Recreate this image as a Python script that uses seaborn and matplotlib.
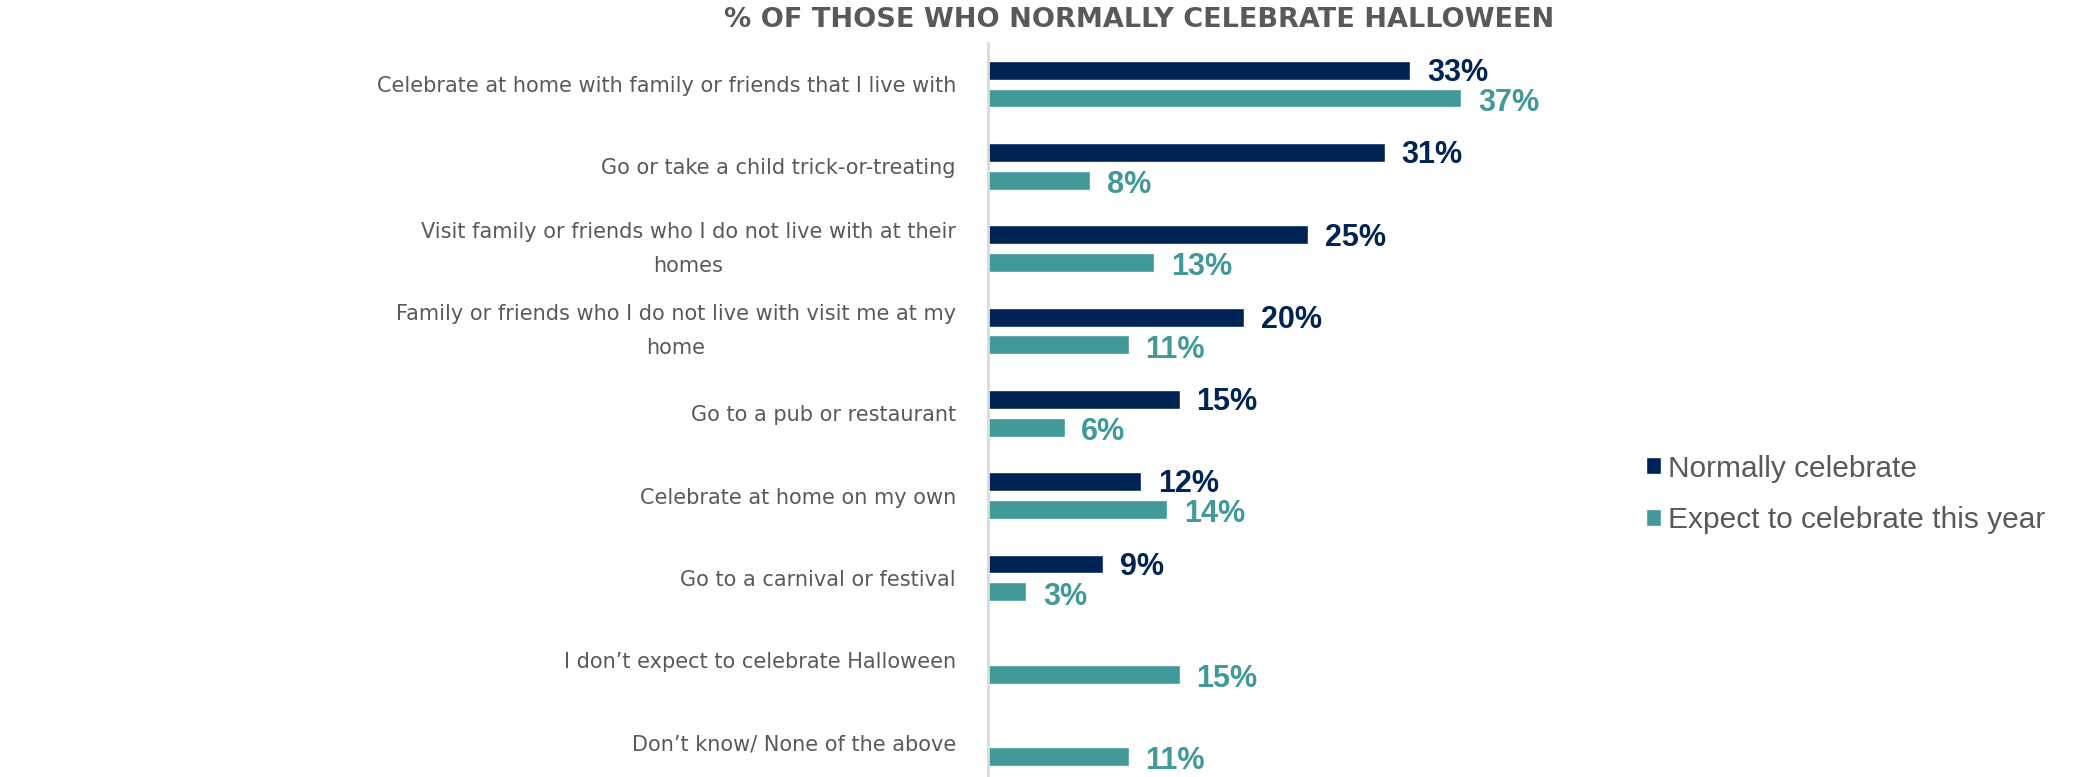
import numpy as np
import pandas as pd
import matplotlib.pyplot as plt
import seaborn as sns

# Data
categories = [
    "Celebrate at home with family or friends that I live with",
    "Go or take a child trick-or-treating",
    "Visit family or friends who I do not live with at their\nhomes",
    "Family or friends who I do not live with visit me at my\nhome",
    "Go to a pub or restaurant",
    "Celebrate at home on my own",
    "Go to a carnival or festival",
    "I don\u2019t expect to celebrate Halloween",
    "Don\u2019t know/ None of the above",
]
normally = [33, 31, 25, 20, 15, 12, 9, None, None]
expect = [37, 8, 13, 11, 6, 14, 3, 15, 11]
series = ["Normally celebrate", "Expect to celebrate this year"]
colors = ["#002454", "#429999"]

sns.set_theme(style="white")
plt.rcParams['font.family'] = ['Liberation Sans', 'DejaVu Sans']

# Long format table for seaborn
df = pd.DataFrame({
    'category': categories * 2,
    'value': normally + expect,
    'series': [series[0]] * len(categories) + [series[1]] * len(categories),
})
df = df.dropna()

fig = plt.figure(figsize=(20.82, 7.77), dpi=100)
ax = fig.add_axes([0.4745, -0.0086, 0.2459, 0.9533])

sns.barplot(data=df, x='value', y='category', hue='series', order=categories,
            hue_order=series, palette=colors, orient='h', width=0.676, gap=0.32,
            saturation=1, ax=ax, legend=True)

# Value labels, nudged a little below the bar centre like the original
for cont, col, dy in zip(ax.containers, colors, [-2, -3.5]):
    labels = [f"{v:.0f}%" for v in cont.datavalues]
    anns = ax.bar_label(cont, labels=labels, padding=12, color=col, fontsize=22,
                        fontweight='bold')
    for a in anns:
        a.xyann = (12, dy)

ax.set_xlim(0, 40)
ax.set_ylim(len(categories) - 0.5, -0.5)
ax.set_xlabel('')
ax.set_ylabel('')
ax.set_xticks([])
ax.tick_params(axis='y', length=0, pad=23, labelsize=15, labelcolor='#595959')
for lbl in ax.get_yticklabels():
    lbl.set_family('DejaVu Sans')
    if '\n' in lbl.get_text():
        lbl.set_multialignment('center')
        lbl.set_linespacing(1.9)
        lbl.set_verticalalignment('center')

for s in ['top', 'right', 'bottom']:
    ax.spines[s].set_visible(False)
ax.spines['left'].set_color('#d9d9d9')
ax.spines['left'].set_linewidth(2)

# Legend on the right
handles, labels = ax.get_legend_handles_labels()
ax.get_legend().remove()
fig.legend(handles, labels, loc='center left', bbox_to_anchor=(0.7906, 0.364),
           frameon=False, fontsize=21.5, labelcolor='#595959', handlelength=0.5,
           handleheight=0.5, handletextpad=0.25, labelspacing=0.78, borderpad=0,
           borderaxespad=0)

fig.text(0.547, 0.974, "% OF THOSE WHO NORMALLY CELEBRATE HALLOWEEN",
         ha='center', va='center', fontsize=19.5, fontweight='bold',
         color='#58595b', family='DejaVu Sans')

fig.savefig('out.png', dpi=100)
